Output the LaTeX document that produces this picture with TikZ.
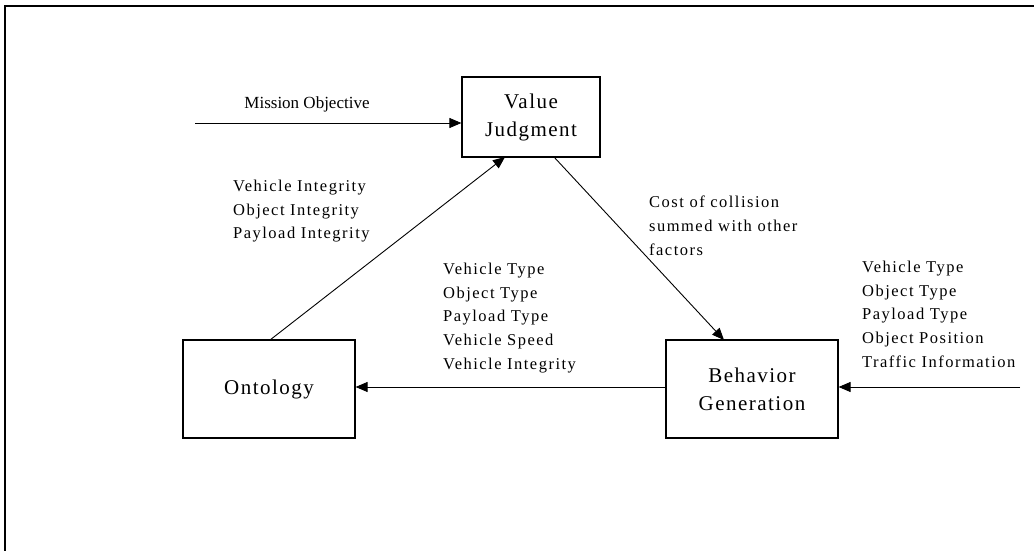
\documentclass[tikz,border=0pt]{standalone}
\usepackage{fontspec}
\setmainfont{Liberation Serif}
\newfontfamily\lblfont[LetterSpace=9]{Liberation Serif}
\newfontfamily\blkfont[LetterSpace=7]{Liberation Serif}
\usetikzlibrary{arrows.meta}
\begin{document}
\begin{tikzpicture}[x=1pt,y=-1pt,
  blk/.style={draw,line width=1.2pt,minimum width=#1,font=\blkfont\fontsize{21}{28}\selectfont,align=center,inner sep=0pt},
  lbl/.style={font=\lblfont\fontsize{16.5}{23.6}\selectfont,align=left,anchor=north west,inner sep=0pt},
  conn/.style={line width=0.9pt,-{Triangle[length=12pt,width=10pt]}}]
\useasboundingbox (0,0) rectangle (1034,551);
\fill[white] (0,0) rectangle (1034,551);
\begin{scope}
\clip (0,0) rectangle (1034,551);
\draw[line width=1.4pt] (5,6) rectangle (1060,580);
\end{scope}
\node[blk=138pt,minimum height=80pt] (vj) at (531,117) {Value\\Judgment};
\node[blk=172pt,minimum height=98pt] (on) at (269,389) {Ontology};
\node[blk=172pt,minimum height=98pt] (bg) at (752,389) {Behavior\\Generation};
\coordinate (mo) at (195,123);
\coordinate (ti) at (1020,387);
\draw[conn] (mo) -- (mo -| vj.west);
\node[font=\fontsize{17}{20}\selectfont,inner sep=0pt] (mol) at (307,104) {Mission Objective};
\coordinate (vjs) at (554,157);
\coordinate (bgt) at (724,340);
\draw[conn] (vjs) -- (bgt);
\coordinate (ont) at (270,340);
\coordinate (vjb) at (505,157);
\draw[conn] (ont) -- (vjb);
\draw[conn] (bg.west |- ti) -- (on.east |- ti);
\draw[conn] (ti) -- (bg.east |- ti);
\node[lbl] (l1) at (233,180) {Vehicle Integrity\\Object Integrity\\Payload Integrity};
\node[lbl] (l2) at (649,196) {Cost of collision\\summed with other\\factors};
\node[lbl] (l3) at (443,263) {Vehicle Type\\Object Type\\Payload Type\\Vehicle Speed\\Vehicle Integrity};
\node[lbl] (l4) at (862,261) {Vehicle Type\\Object Type\\Payload Type\\Object Position\\Traffic Information};
\end{tikzpicture}
\end{document}
